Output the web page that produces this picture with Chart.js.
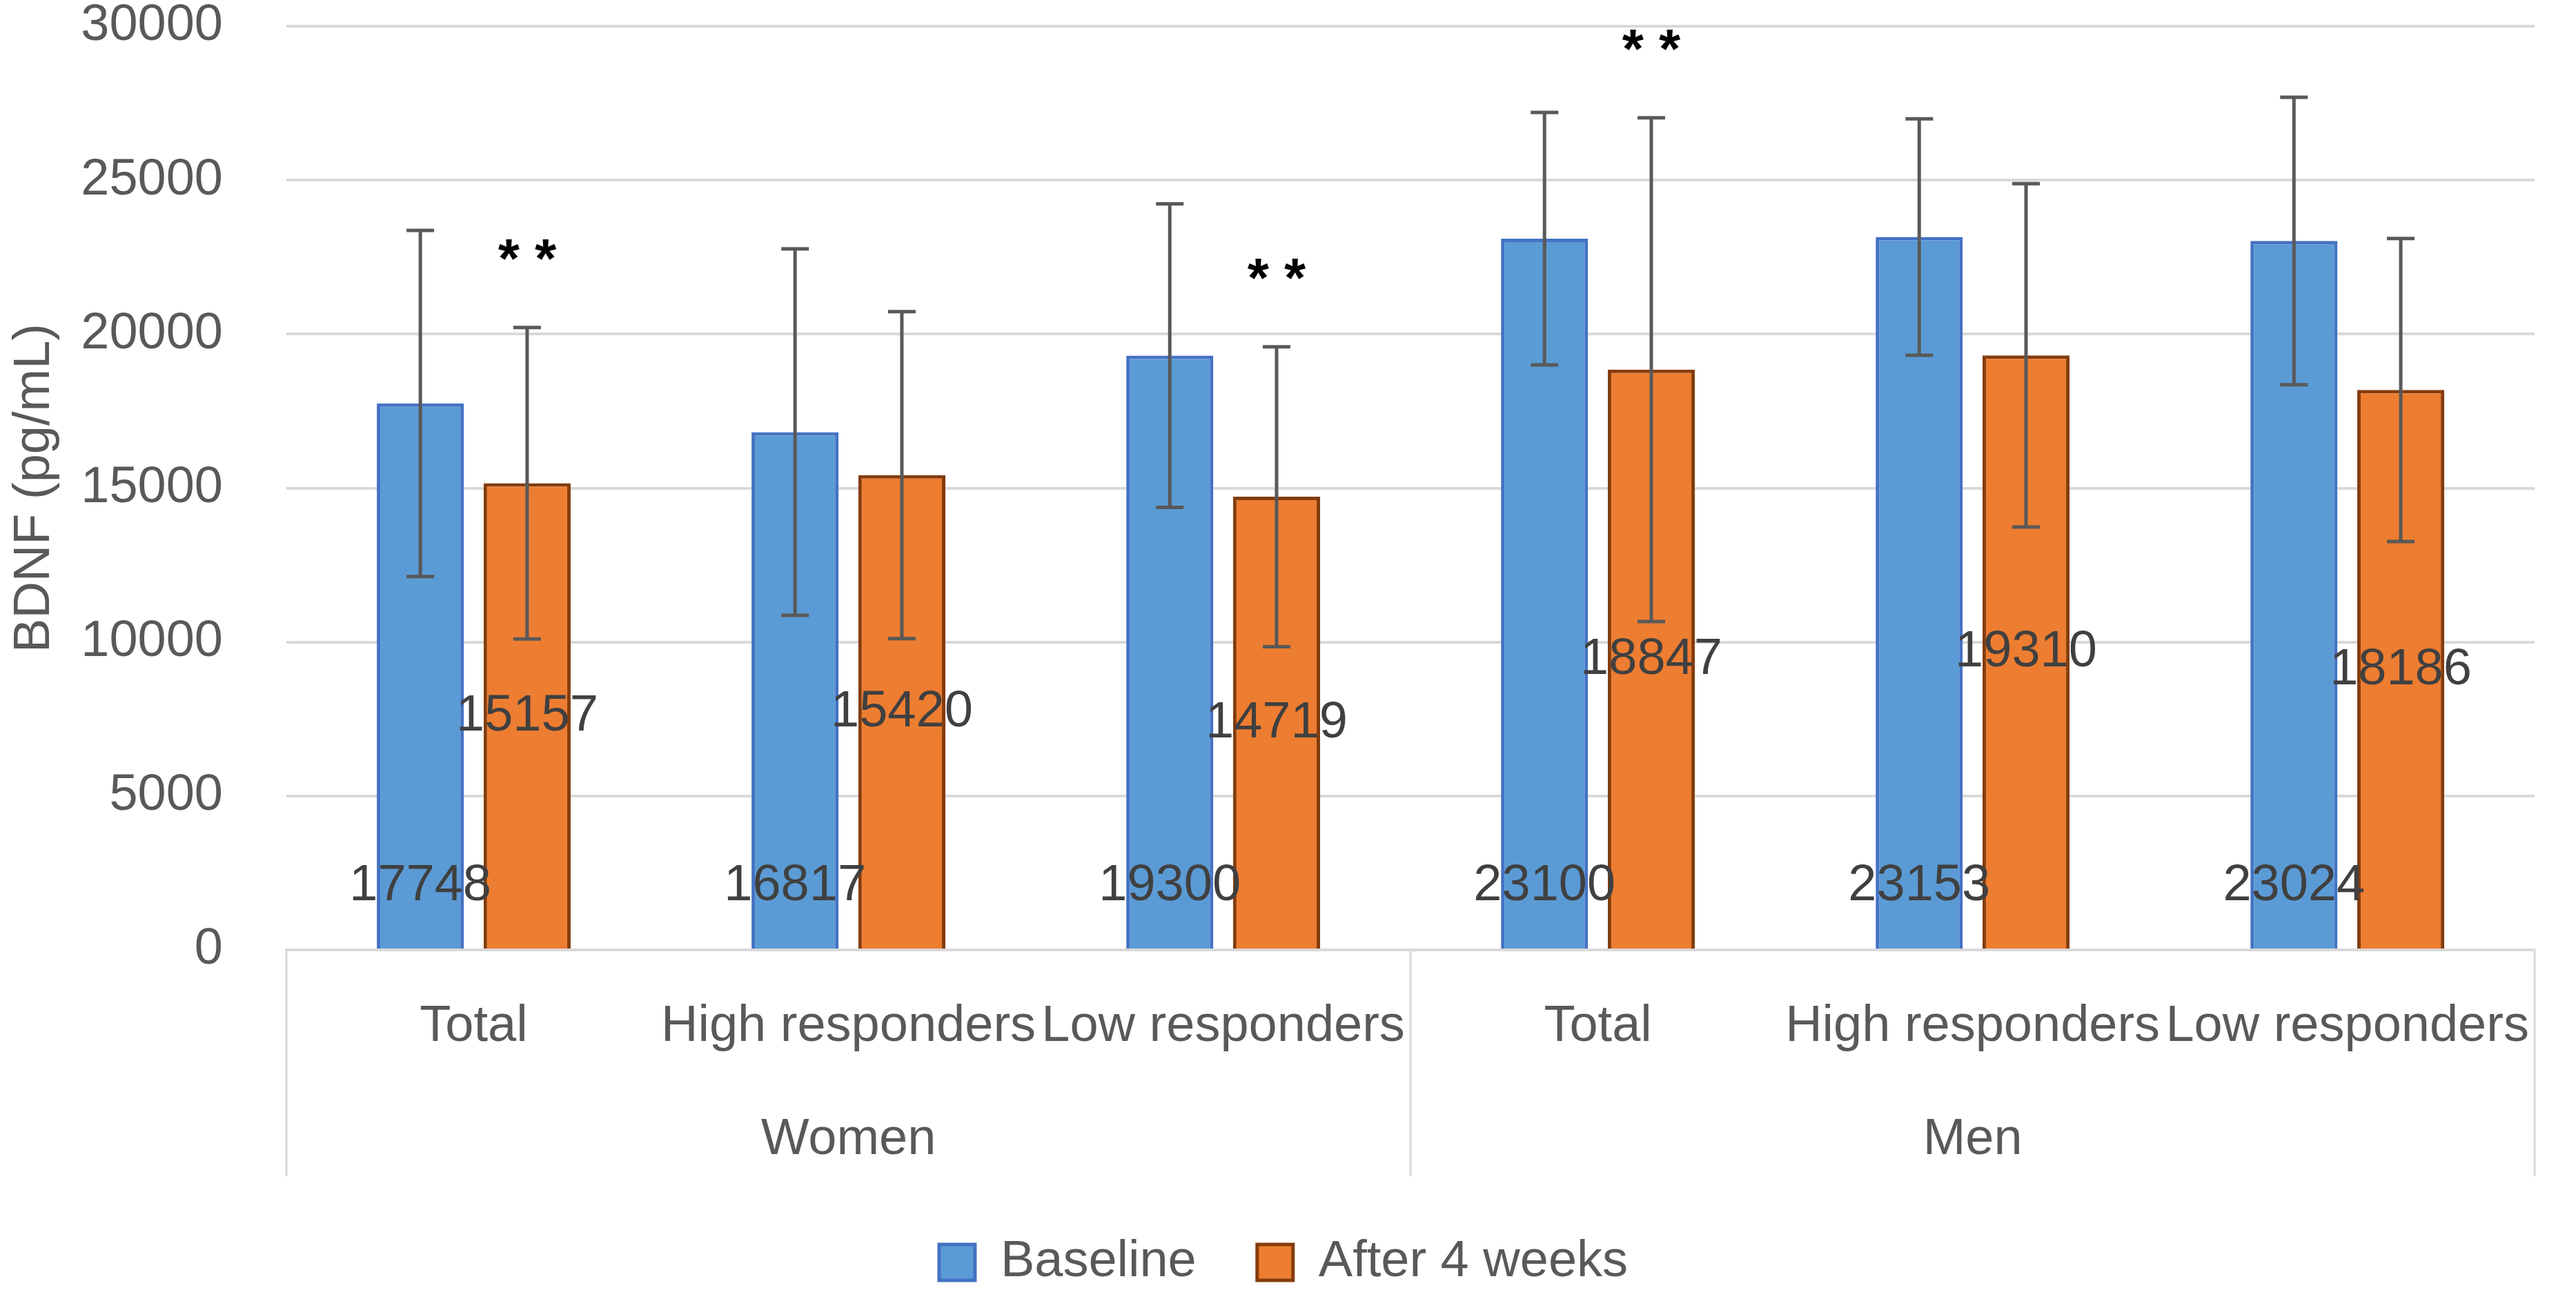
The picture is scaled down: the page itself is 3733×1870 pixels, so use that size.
<!DOCTYPE html>
<html>
<head>
<meta charset="utf-8">
<script src="https://cdn.jsdelivr.net/npm/chart.js@4.4.1/dist/chart.umd.min.js"></script>
<style>
  html, body { margin: 0; padding: 0; background: #fff; }
  #wrap { width: 3733px; height: 1870px; }
</style>
</head>
<body>
<div id="wrap"><canvas id="myChart"></canvas></div>
<script>
const subgroups = ['Total', 'High responders', 'Low responders', 'Total', 'High responders', 'Low responders'];
const groups = ['Women', 'Men'];
const baseline = [17748, 16817, 19300, 23100, 23153, 23024];
const baselineSD = [5620, 5950, 4930, 4100, 3840, 4670];
const after4w = [15157, 15420, 14719, 18847, 19310, 18186];
const after4wSD = [5060, 5310, 4870, 8180, 5577, 4920];
const afterSig = ['**', '', '**', '**', '', ''];

const FONT = "'Liberation Sans', Arial, sans-serif";
const GREY = '#595959';

// error bars, value labels and the ** marks
const extras = {
    id: 'extras',
    afterDatasetsDraw(chart) {
        const ctx = chart.ctx;
        const y = chart.scales.y;
        const sets = [[baseline, baselineSD], [after4w, after4wSD]];
        ctx.save();
        ctx.strokeStyle = GREY;
        ctx.lineWidth = 5;
        sets.forEach((s, d) => {
            chart.getDatasetMeta(d).data.forEach((bar, i) => {
                const hi = y.getPixelForValue(s[0][i] + s[1][i]);
                const lo = y.getPixelForValue(s[0][i] - s[1][i]);
                ctx.beginPath();
                ctx.moveTo(bar.x, hi); ctx.lineTo(bar.x, lo);
                ctx.moveTo(bar.x - 20, hi); ctx.lineTo(bar.x + 20, hi);
                ctx.moveTo(bar.x - 20, lo); ctx.lineTo(bar.x + 20, lo);
                ctx.stroke();
            });
        });

        ctx.font = '74px ' + FONT;
        ctx.fillStyle = '#404040';
        ctx.textAlign = 'center';
        ctx.textBaseline = 'middle';
        const zero = y.getPixelForValue(0);
        chart.getDatasetMeta(0).data.forEach((bar, i) => {
            ctx.fillText(baseline[i], bar.x, zero - 92);
        });
        chart.getDatasetMeta(1).data.forEach((bar, i) => {
            ctx.fillText(after4w[i], bar.x, (bar.y + zero) / 2);
        });

        ctx.font = 'bold 80px ' + FONT;
        ctx.fillStyle = '#000';
        chart.getDatasetMeta(1).data.forEach((bar, i) => {
            if (!afterSig[i]) return;
            const top = y.getPixelForValue(after4w[i] + after4wSD[i]);
            ctx.fillText(afterSig[i].split('').join(' '), bar.x, top - 95);
        });
        ctx.restore();
    },
    afterDraw(chart) {
        // vertical separators of the two-level category axis
        const x = chart.scales.x;
        const x2 = chart.scales.x2;
        const ctx = chart.ctx;
        const mid = (x.getPixelForValue(2) + x.getPixelForValue(3)) / 2;
        ctx.save();
        ctx.strokeStyle = '#D9D9D9';
        ctx.lineWidth = 3;
        [x.left, mid, x.right].forEach(px => {
            ctx.beginPath();
            ctx.moveTo(px, x.top);
            ctx.lineTo(px, x2.bottom);
            ctx.stroke();
        });
        ctx.restore();
    }
};

const ctx = document.getElementById('myChart').getContext('2d');
const myChart = new Chart(ctx, {
    type: 'bar',
    data: {
        labels: subgroups,
        datasets: [{
            label: 'Baseline',
            data: baseline,
            backgroundColor: '#5B9BD5',
            borderColor: '#4472C4',
            borderWidth: 5
        }, {
            label: 'After 4 weeks',
            data: after4w,
            backgroundColor: '#ED7D31',
            borderColor: '#843C0C',
            borderWidth: 5
        }]
    },
    options: {
        responsive: true,
        maintainAspectRatio: false,
        devicePixelRatio: 1,
        animation: false,
        categoryPercentage: 0.57,
        barPercentage: 0.815,
        layout: { padding: { top: 38, right: 13, bottom: -7, left: 0 } },
        plugins: {
            legend: {
                position: 'bottom',
                onClick: null,
                labels: {
                    font: { size: 74, family: FONT },
                    color: GREY,
                    boxWidth: 52,
                    boxHeight: 52,
                    padding: 88
                }
            },
            tooltip: { enabled: false }
        },
        scales: {
            y: {
                min: 0,
                max: 30000,
                ticks: {
                    stepSize: 5000,
                    callback: v => String(v),
                    font: { size: 74, family: FONT, lineHeight: 1 },
                    color: GREY,
                    padding: 92
                },
                grid: { color: '#D9D9D9', lineWidth: 4, drawTicks: false },
                border: { display: false },
                title: {
                    display: true,
                    text: 'BDNF (pg/mL)',
                    font: { size: 74, family: FONT },
                    color: GREY,
                    padding: { top: 6, bottom: 0 }
                },
                afterFit: s => {
                    s.width = 415;
                    s.paddingTop = 30;
                    s.paddingBottom = 30;
                }
            },
            x: {
                position: 'bottom',
                weight: 0,
                grid: { display: false, drawTicks: false },
                border: { color: '#D9D9D9', width: 4 },
                ticks: {
                    font: { size: 74, family: FONT },
                    color: GREY,
                    padding: 67,
                    maxRotation: 0,
                    autoSkip: false
                },
                afterFit: s => { s.height = 200; }
            },
            x2: {
                type: 'category',
                labels: groups,
                position: 'bottom',
                weight: 1,
                offset: true,
                grid: { display: false, drawTicks: false },
                border: { display: false },
                ticks: {
                    font: { size: 74, family: FONT },
                    color: GREY,
                    padding: 31,
                    maxRotation: 0
                },
                afterFit: s => { s.height = 128; }
            }
        }
    },
    plugins: [extras]
});
</script>
</body>
</html>
